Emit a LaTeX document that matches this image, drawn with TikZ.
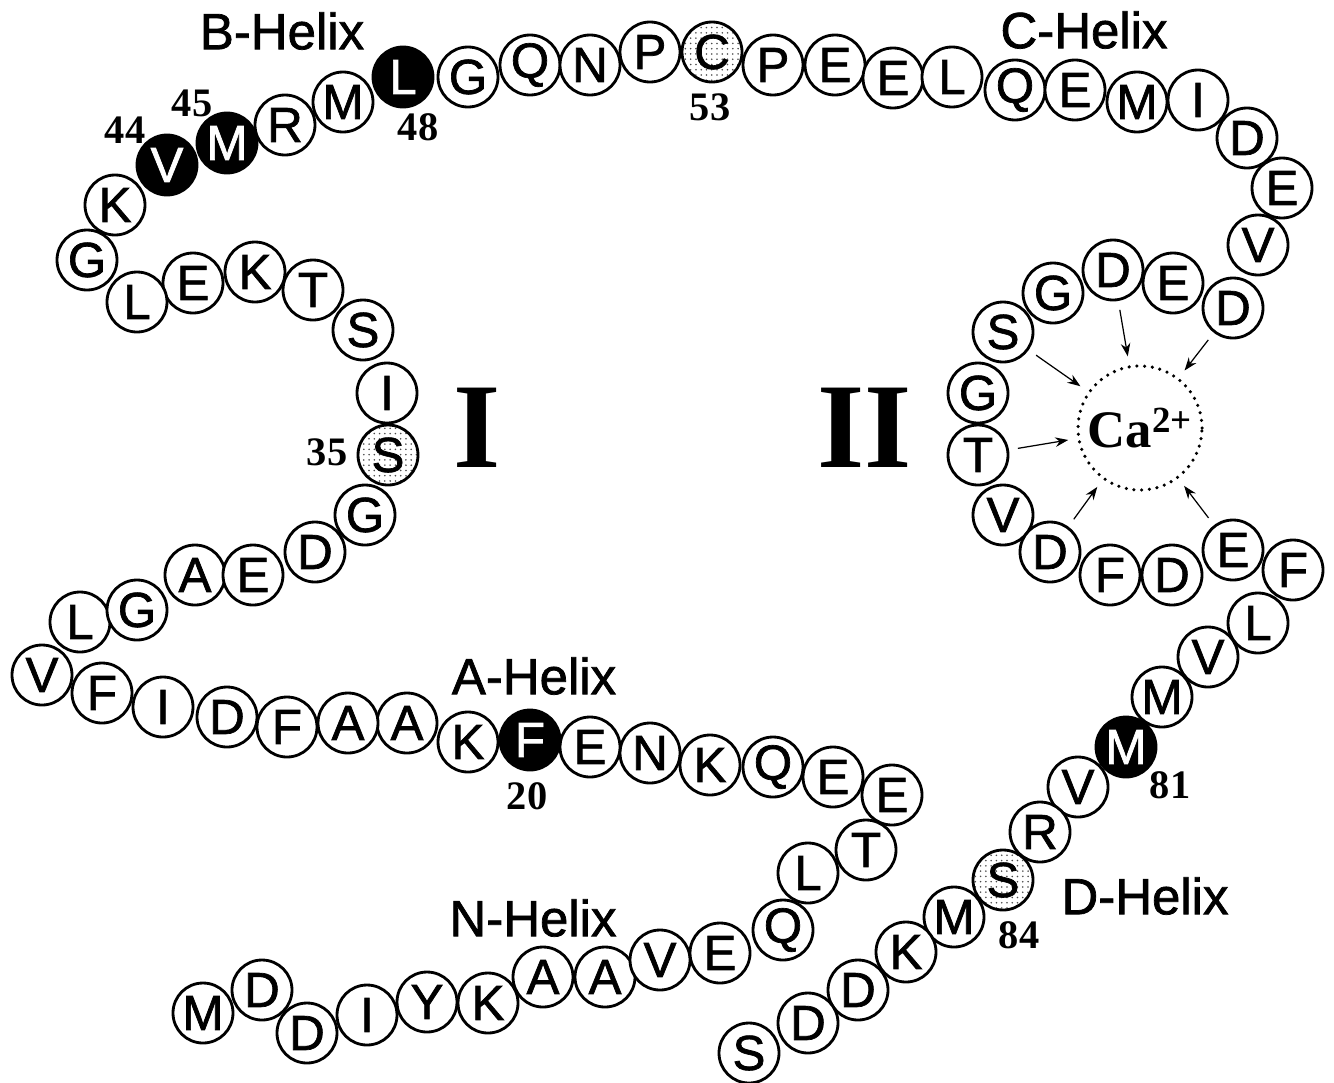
\documentclass[tikz,border=0pt]{standalone}
\usepackage{fontspec}
\setmainfont{Liberation Sans}
\newfontfamily\aafont{Liberation Sans}[FakeBold=1.4]
\newfontfamily\numfont{Liberation Serif}
\usetikzlibrary{patterns,arrows.meta}

\begin{document}
\begin{tikzpicture}[x=0.2mm,y=-0.2mm,every node/.style={font=\aafont\fontsize{28}{28}\selectfont},
  aa/.style={circle,draw,line width=1.6pt,fill=white,minimum size=1.2cm,inner sep=0pt},
  aablack/.style={aa,fill=black,text=white},
  aadot/.style={aa,preaction={fill=white},pattern=dots,pattern color=black!70},
  helix/.style={inner sep=0pt,font=\aafont\fontsize{29}{29}\selectfont},
  num/.style={inner sep=0pt,font=\numfont\bfseries\fontsize{23}{23}\selectfont},
  sitelabel/.style={inner sep=0pt,font=\numfont\bfseries\fontsize{69}{69}\selectfont},
  ion/.style={circle,draw,line width=2pt,dash pattern=on 0pt off 4.4pt,line cap=round,
    minimum size=2.48cm,inner sep=0pt,font=\numfont\bfseries\fontsize{30}{30}\selectfont},
  toion/.style={-{Stealth[length=2.6mm,width=1.9mm]},line width=0.7pt,shorten <=0.18cm,shorten >=0.18cm}]
\useasboundingbox (0,0) rectangle (1334,1082);
% N-helix
\node[aa] (M1) at (203,1013) {M};
\node[aa] (D2) at (262,990) {D};
\node[aa] (D3) at (307,1033) {D};
\node[aa] (I4) at (367,1015) {I};
\node[aa] (Y5) at (427,1002) {Y};
\node[aa] (K6) at (488,1003) {K};
\node[aa] (A7) at (543,977) {A};
\node[aa] (A8) at (605,977) {A};
\node[aa] (V9) at (660,960) {V};
\node[aa] (E10) at (720,953) {E};
\node[aa] (Q11) at (783,930) {Q};
\node[aa] (L12) at (808,873) {L};
\node[aa] (T13) at (866,850) {T};
\node[aa] (E14) at (892,795) {E};
% A-helix
\node[aa] (E15) at (833,777) {E};
\node[aa] (Q16) at (773,767) {Q};
\node[aa] (K17) at (710,765) {K};
\node[aa] (N18) at (650,753) {N};
\node[aa] (E19) at (590,747) {E};
\node[aablack] (F20) at (530,740) {F};
\node[aa] (K21) at (468,742) {K};
\node[aa] (A22) at (407,723) {A};
\node[aa] (A23) at (348,723) {A};
\node[aa] (F24) at (287,727) {F};
\node[aa] (D25) at (227,717) {D};
\node[aa] (I26) at (163,707) {I};
\node[aa] (F27) at (102,693) {F};
\node[aa] (V28) at (42,675) {V};
% loop I
\node[aa] (L29) at (80,622) {L};
\node[aa] (G30) at (137,610) {G};
\node[aa] (A31) at (195,575) {A};
\node[aa] (E32) at (253,575) {E};
\node[aa] (D33) at (315,552) {D};
\node[aa] (G34) at (365,515) {G};
\node[aadot] (S35) at (388,455) {S};
\node[aa] (I36) at (387,393) {I};
\node[aa] (S37) at (363,330) {S};
\node[aa] (T38) at (313,290) {T};
\node[aa] (K39) at (255,272) {K};
\node[aa] (E40) at (193,283) {E};
\node[aa] (L41) at (137,302) {L};
\node[aa] (G42) at (87,260) {G};
% B-helix
\node[aa] (K43) at (115,205) {K};
\node[aablack] (V44) at (167,165) {V};
\node[aablack] (M45) at (227,143) {M};
\node[aa] (R46) at (285,125) {R};
\node[aa] (M47) at (343,102) {M};
\node[aablack] (L48) at (403,77) {L};
\node[aa] (G49) at (468,77) {G};
\node[aa] (Q50) at (530,65) {Q};
\node[aa] (N51) at (590,65) {N};
\node[aa] (P52) at (650,52) {P};
\node[aadot] (C53) at (712,52) {C};
\node[aa] (P54) at (773,65) {P};
\node[aa] (E55) at (835,65) {E};
% C-helix
\node[aa] (E56) at (893,78) {E};
\node[aa] (L57) at (952,77) {L};
\node[aa] (Q58) at (1015,90) {Q};
\node[aa] (E59) at (1075,90) {E};
\node[aa] (M60) at (1137,102) {M};
\node[aa] (I61) at (1198,100) {I};
\node[aa] (D62) at (1247,138) {D};
\node[aa] (E63) at (1282,188) {E};
\node[aa] (V64) at (1258,245) {V};
% loop II
\node[aa] (D65) at (1233,308) {D};
\node[aa] (E66) at (1173,283) {E};
\node[aa] (D67) at (1113,270) {D};
\node[aa] (G68) at (1053,293) {G};
\node[aa] (S69) at (1003,332) {S};
\node[aa] (G70) at (978,393) {G};
\node[aa] (T71) at (978,455) {T};
\node[aa] (V72) at (1003,515) {V};
\node[aa] (D73) at (1050,552) {D};
\node[aa] (F74) at (1110,575) {F};
\node[aa] (D75) at (1172,575) {D};
\node[aa] (E76) at (1233,550) {E};
% D-helix
\node[aa] (F77) at (1293,570) {F};
\node[aa] (L78) at (1258,623) {L};
\node[aa] (V79) at (1208,657) {V};
\node[aa] (M80) at (1162,697) {M};
\node[aablack] (M81) at (1126,747) {M};
\node[aa] (V82) at (1078,787) {V};
\node[aa] (R83) at (1040,832) {R};
\node[aadot] (S84) at (1003,880) {S};
\node[aa] (M85) at (954,917) {M};
\node[aa] (K86) at (906,952) {K};
\node[aa] (D87) at (858,990) {D};
\node[aa] (D88) at (808,1023) {D};
\node[aa] (S89) at (749,1053) {S};
% calcium site
\node[ion] (ca) at (1140,428) {Ca\textsuperscript{2+}};
\draw[toion] (D65) -- (ca);
\draw[toion] (D67) -- (ca);
\draw[toion] (S69) -- (ca);
\draw[toion] (T71) -- (ca);
\draw[toion] (D73) -- (ca);
\draw[toion] (E76) -- (ca);
% labels
\node[helix] (nhelix) at (533,918) {N-Helix};
\node[helix] (ahelix) at (534,676) {A-Helix};
\node[helix] (bhelix) at (282,31) {B-Helix};
\node[helix] (chelix) at (1084,30) {C-Helix};
\node[helix] (dhelix) at (1145,896) {D-Helix};
\node[num] (n20) at (527,796) {20};
\node[num] (n35) at (327,452) {35};
\node[num] (n44) at (125,130) {44};
\node[num] (n45) at (192,103) {45};
\node[num] (n48) at (418,127) {48};
\node[num] (n53) at (710,107) {53};
\node[num] (n81) at (1170,785) {81};
\node[num] (n84) at (1019,935) {84};
\node[sitelabel] (site1) at (477,428) {I};
\node[sitelabel] (site2) at (865,428) {II};
\end{tikzpicture}
\end{document}
